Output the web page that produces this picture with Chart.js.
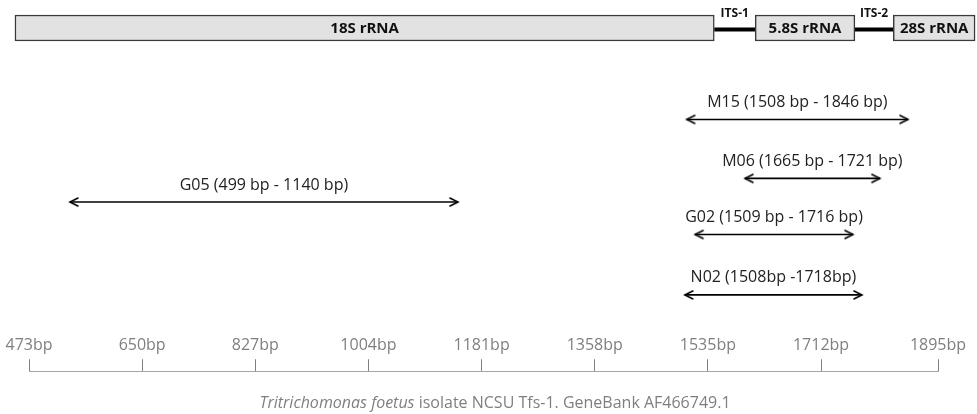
<!DOCTYPE html>
<html>
<head>
<meta charset="utf-8">
<script src="https://cdn.jsdelivr.net/npm/chart.js@4.4.1/dist/chart.umd.min.js"></script>
<style>
  body { margin: 0; background: #fff; }
  #wrap { position: relative; width: 977px; height: 414px; overflow: hidden; }
  #top { position: absolute; left: 0; top: 0; width: 977px; height: 330px; }
  #axis { position: absolute; left: 0; top: 325px; width: 977px; height: 89px; }
  #caption { position: absolute; left: 0; top: 392px; width: 990px; text-align: center;
    font: 16px "Open Sans", sans-serif; color: #7f7f7f; line-height: 21px; }
</style>
</head>
<body>
<div id="wrap">
  <div id="top"><canvas id="graphic1"></canvas></div>
  <div id="axis"><canvas id="graphic2"></canvas></div>
  <div id="caption"><i>Tritrichomonas foetus</i> isolate NCSU Tfs-1. GeneBank AF466749.1</div>
</div>
<script>
// axis ticks (bp)
var tickBp = [473, 650, 827, 1004, 1181, 1358, 1535, 1712, 1895]

// rRNA regions (boxes) and spacers (ITS lines), in bp as drawn
var regionNames = ["18S rRNA", "5.8S rRNA", "28S rRNA"]
var regionStart = [451, 1609, 1825]
var regionEnd = [1545, 1765, 1953]
var spacerNames = ["ITS-1", "ITS-2"]
var spacerStart = [1545, 1765]
var spacerEnd = [1609, 1825]

// primer products (arrows), ends
var primerLabels = ["M15 (1508 bp - 1846 bp)", "M06 (1665 bp - 1721 bp)", "G05 (499 bp - 1140 bp)",
    "G02 (1509 bp - 1716 bp)", "N02 (1508bp -1718bp)"]
var primerStart = [1502, 1593, 537, 1515, 1499]
var primerEnd = [1848, 1804, 1144, 1762, 1776]
var primerRow = [3.1, 5.1, 5.9, 7.0, 9.05]

var fontFam = "'Open Sans', sans-serif"

function head(dir) {
    var c = document.createElement("canvas")
    c.width = 20; c.height = 12
    var g = c.getContext("2d")
    g.strokeStyle = "#000"; g.lineWidth = 1.6; g.lineCap = "round"
    g.beginPath()
    var back = dir > 0 ? 2 : 18
    g.moveTo(back, 2); g.lineTo(10, 6); g.lineTo(back, 10)
    g.stroke()
    return c
}
var leftHead = head(-1), rightHead = head(1)

var datasets = []
datasets.push({
    type: "bar",
    indexAxis: "y",
    data: regionStart.map(function (s, i) { return { x: [s, regionEnd[i]], y: 0 } }),
    barThickness: 26,
    backgroundColor: "#e2e2e2",
    borderColor: "#3a3a3a",
    borderWidth: 1.5,
    borderSkipped: false,
    clip: false
})
spacerStart.forEach(function (s, i) {
    datasets.push({
        type: "line",
        data: [{ x: s, y: 0.05 }, { x: spacerEnd[i], y: 0.05 }],
        borderColor: "#000",
        borderWidth: 4,
        pointRadius: 0,
        clip: false
    })
})
primerStart.forEach(function (s, i) {
    datasets.push({
        type: "line",
        data: [{ x: s, y: primerRow[i] }, { x: primerEnd[i], y: primerRow[i] }],
        borderColor: "#000",
        borderWidth: 1.6,
        pointStyle: [leftHead, rightHead],
        pointRadius: 6,
        clip: false
    })
})

var textPlugin = {
    id: "texts",
    afterDatasetsDraw: function (chart) {
        var c = chart.ctx, xs = chart.scales.x, ys = chart.scales.y
        c.save()
        c.textAlign = "center"
        c.textBaseline = "middle"
        c.fillStyle = "#222"
        c.font = "16px " + fontFam
        primerLabels.forEach(function (t, i) {
            var x = (xs.getPixelForValue(primerStart[i]) + xs.getPixelForValue(primerEnd[i])) / 2
            c.fillText(t, x, ys.getPixelForValue(primerRow[i]) - 17)
        })
        c.fillStyle = "#111"
        c.font = "bold 15px " + fontFam
        regionNames.forEach(function (t, i) {
            var x = (xs.getPixelForValue(regionStart[i]) + xs.getPixelForValue(regionEnd[i])) / 2
            c.fillText(t, x, ys.getPixelForValue(0) + 1)
        })
        c.font = "bold 12px " + fontFam
        spacerNames.forEach(function (t, i) {
            var x = (xs.getPixelForValue(spacerStart[i]) + xs.getPixelForValue(spacerEnd[i])) / 2
            c.fillText(t, x, ys.getPixelForValue(0) - 14.5)
        })
        c.restore()
    }
}

var graph = new Chart(document.getElementById("graphic1").getContext("2d"), {
    type: "line",
    data: { datasets: datasets },
    options: {
        responsive: true,
        maintainAspectRatio: false,
        animation: false,
        events: [],
        layout: { padding: { left: 29, right: 39, top: 0, bottom: 0 }, autoPadding: false },
        plugins: { legend: { display: false }, tooltip: { enabled: false } },
        scales: {
            x: { type: "linear", display: false, min: 473, max: 1895, offset: false },
            y: { type: "linear", display: false, reverse: true, min: -0.95, max: 10.24, offset: false, grid: { offset: false } }
        }
    },
    plugins: [textPlugin]
})

// bp ruler: its own chart so the labels sit above the line
var graph2 = new Chart(document.getElementById("graphic2").getContext("2d"), {
    type: "line",
    data: { datasets: [] },
    options: {
        responsive: true,
        maintainAspectRatio: false,
        animation: false,
        events: [],
        layout: { padding: { left: 29, right: 39, top: 7, bottom: 0 } },
        plugins: { legend: { display: false }, tooltip: { enabled: false } },
        scales: {
            x: {
                type: "linear",
                position: "top",
                min: 473,
                max: 1895,
                afterBuildTicks: function (s) { s.ticks = tickBp.map(function (v) { return { value: v } }) },
                ticks: {
                    callback: function (v) { return v + "bp" },
                    color: "#7f7f7f",
                    font: { family: fontFam, size: 16 },
                    maxRotation: 0,
                    autoSkip: false,
                    padding: 4
                },
                grid: { drawOnChartArea: false, tickLength: 12, tickColor: "#7f7f7f", tickWidth: 1 },
                border: { color: "#a6a6a6", width: 1 }
            },
            y: { display: false }
        }
    }
})
</script>
</body>
</html>
